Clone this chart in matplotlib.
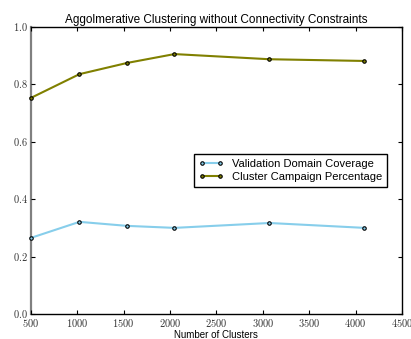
import matplotlib
matplotlib.use("Agg")
import matplotlib.pyplot as plt
from matplotlib.ticker import FuncFormatter

clusters = [500, 1024, 1536, 2048, 3072, 4096]
domain_coverage = [0.265, 0.321, 0.307, 0.300, 0.317, 0.300]
campaign_pct = [0.753, 0.836, 0.875, 0.906, 0.888, 0.882]

plt.style.use("classic")
plt.rcParams["figure.facecolor"] = "white"
plt.rcParams["savefig.facecolor"] = "white"
plt.rcParams["mathtext.fontset"] = "cm"

fig = plt.figure(figsize=(4.11, 3.39), dpi=100)
ax = fig.add_axes([0.075, 0.074, 0.903, 0.846])

ax.plot(clusters, domain_coverage, color="skyblue", lw=1.5, marker="o",
        ms=2.5, mec="black", mfc="skyblue", mew=0.8, clip_on=False, zorder=5,
        label="Validation Domain Coverage")
ax.plot(clusters, campaign_pct, color="olive", lw=1.5, marker="o",
        ms=2.5, mec="black", mfc="olive", mew=0.8, clip_on=False, zorder=5,
        label="Cluster Campaign Percentage")

ax.set_xlim(500, 4500)
ax.set_ylim(0, 1)
ax.set_xticks(range(500, 4501, 500))
ax.set_yticks([0.0, 0.2, 0.4, 0.6, 0.8, 1.0])
ax.xaxis.set_major_formatter(FuncFormatter(lambda v, p: r"$%d$" % v))
ax.yaxis.set_major_formatter(FuncFormatter(lambda v, p: r"$%.1f$" % v))
ax.tick_params(length=3, width=0.8, labelsize=7.5, labelcolor="#333333", pad=2)

ax.spines["left"].set_color("gray")
ax.spines["left"].set_linewidth(1.6)
ax.spines["left"].set_zorder(1)

ax.set_title("Aggolmerative Clustering without Connectivity Constraints",
             fontsize=8.5, family="Liberation Sans", pad=3)
ax.set_xlabel("Number of Clusters", fontsize=7, family="Liberation Sans",
              labelpad=1)

ax.legend(loc="center right", bbox_to_anchor=(0.975, 0.5),
          prop={"family": "Liberation Sans", "size": 8}, numpoints=2,
          handlelength=2.2, borderpad=0.45, labelspacing=0.3)

fig.savefig("out.png", dpi=100)
